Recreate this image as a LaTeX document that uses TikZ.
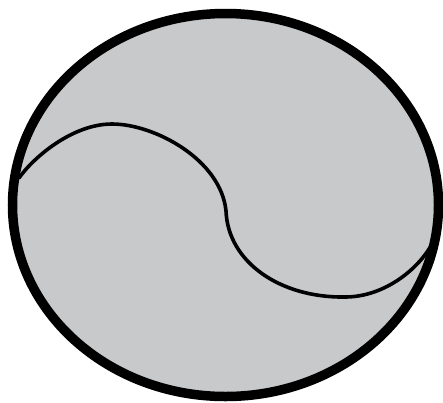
\documentclass[tikz,border=0pt]{standalone}
\usetikzlibrary{calc}
\usepackage{xcolor}
\definecolor{discgray}{RGB}{199,201,203}
\tikzset{
  rim/.style   = {draw=black, line width=9.5pt, fill=discgray},
  swirl/.style = {draw=black, line width=3.6pt, line cap=round},
}

\begin{document}
\begin{tikzpicture}[x=1pt, y=-1pt]
\useasboundingbox (0,0) rectangle (443,402);

% outer disc
\draw[rim] (225.5,205) ellipse [x radius=213, y radius=191.5];

% points of the s-curve
\coordinate (start) at (19,178);
\coordinate (crest) at (112,124);
\coordinate (mid)   at (226,211);
\coordinate (dip)   at (345,297);
\coordinate (stop)  at (433,242);

% s-curve
\draw[swirl] (start) .. controls (33,158) and (72,124) .. (crest)
                     .. controls (155,124) and (221,160) .. (mid)
                     .. controls (228,262) and (280,298) .. (dip)
                     .. controls (385,297) and (420,268) .. (stop);

\end{tikzpicture}
\end{document}
